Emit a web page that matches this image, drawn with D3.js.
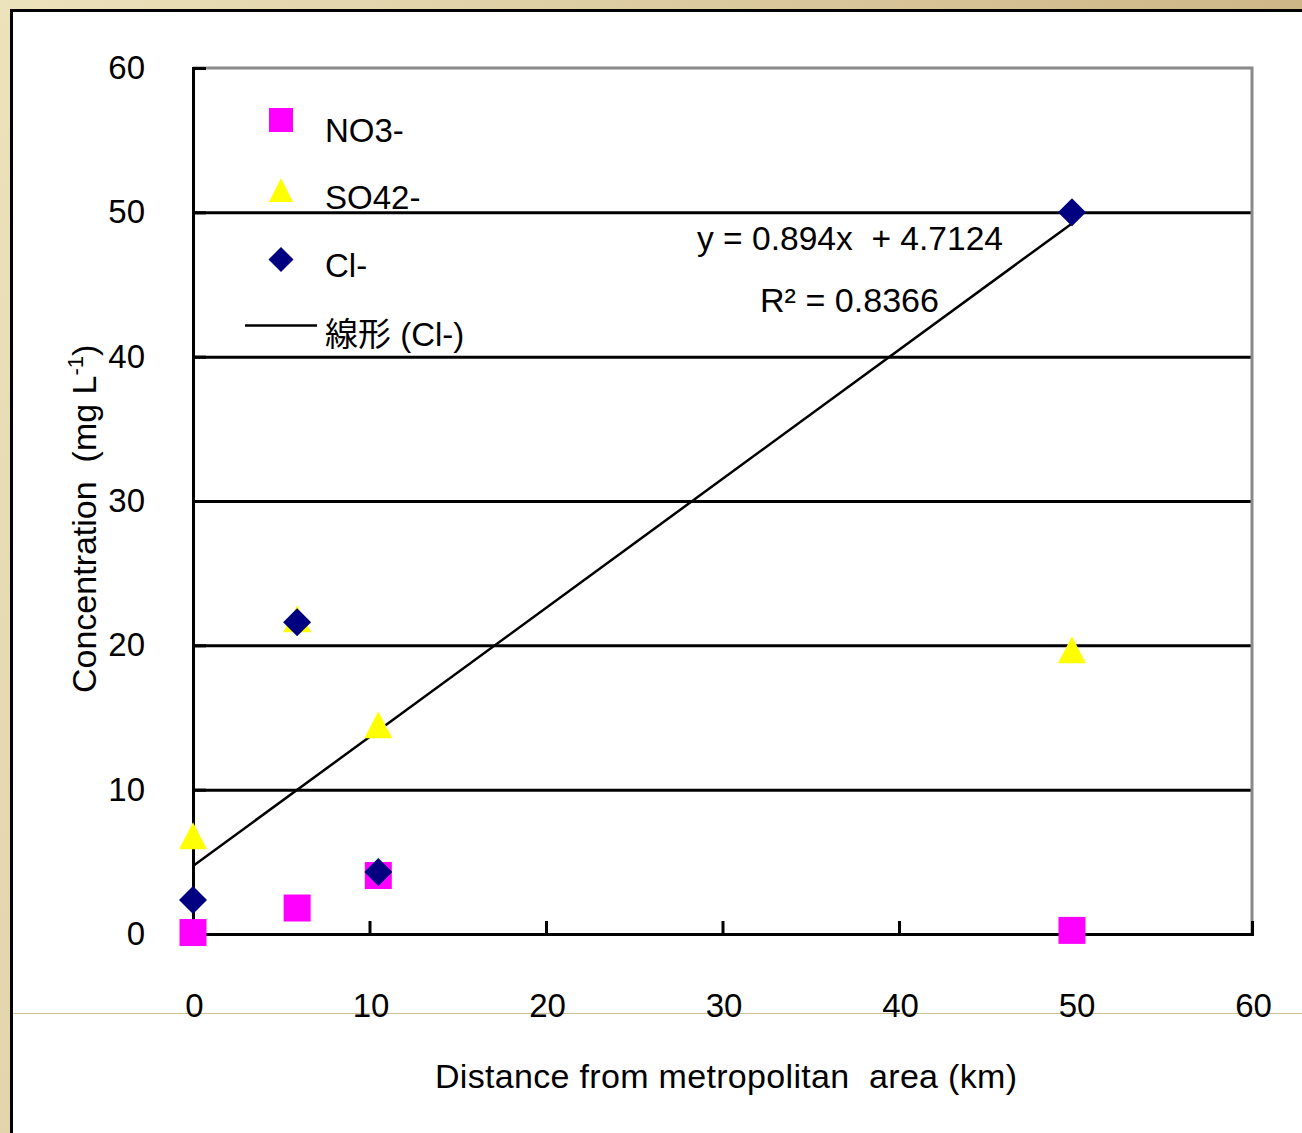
<!DOCTYPE html>
<html>
<head>
<meta charset="utf-8">
<script src="https://cdn.jsdelivr.net/npm/d3@7"></script>
<style>
  html, body { margin: 0; padding: 0; background: #fff; }
  svg { display: block; font-family: "Liberation Sans", Arial, "Noto Sans CJK JP", sans-serif; }
  svg text { white-space: pre; }
</style>
</head>
<body>
<div id="chart"></div>
<script>
const width = 1302;
const height = 1133;

// distances (km) for each site
const distances = [0, 5.9, 10.5, 49.8];
// concentrations (mg/L)
const no3 = [0.1, 1.8, 4.05, 0.25];
const so4 = [6.8, 21.85, 14.5, 19.7];
const cl = [2.35, 21.6, 4.3, 50.0];

// linear trend of Cl- as reported on the chart
const slope = 0.894;
const intercept = 4.7124;
const r2Label = "R² = 0.8366";
const eqLabel = "y = 0.894x  + 4.7124";

const xTicks = [0, 10, 20, 30, 40, 50, 60];
const yTicks = [0, 10, 20, 30, 40, 50, 60];

const legendItems = ["NO3-", "SO42-", "Cl-", "線形 (Cl-)"];

const svg = d3.select("#chart").append("svg").attr("width", width).attr("height", height);

// slide background + white panel
const defs = svg.append("defs");
const grad = defs.append("linearGradient").attr("id", "bg").attr("x1", "0").attr("y1", "0").attr("x2", "1").attr("y2", "0.3");
grad.append("stop").attr("offset", "0").attr("stop-color", "#ece2bc");
grad.append("stop").attr("offset", "1").attr("stop-color", "#cbb282");
svg.append("rect").attr("width", width).attr("height", height).attr("fill", "url(#bg)");
svg.append("rect").attr("x", 11).attr("y", 11).attr("width", width - 11).attr("height", height - 11).attr("fill", "#fff");
svg.append("line").attr("x1", 11.5).attr("x2", 11.5).attr("y1", 10).attr("y2", height).attr("stroke", "#000").attr("stroke-width", 3);
svg.append("line").attr("x1", 10).attr("x2", width).attr("y1", 10.5).attr("y2", 10.5).attr("stroke", "#000").attr("stroke-width", 3);
// stray slide guide line
svg.append("line").attr("x1", 13).attr("x2", width).attr("y1", 1013.5).attr("y2", 1013.5).attr("stroke", "#d2c094").attr("stroke-width", 1);

const x = d3.scaleLinear().domain([0, 60]).range([193, 1252]);
const y = d3.scaleLinear().domain([0, 60]).range([934, 68]);

const plot = svg.append("g");

// gridlines
plot.selectAll("line.grid")
  .data(yTicks.filter((d) => d > 0 && d < 60))
  .enter()
  .append("line")
  .attr("class", "grid")
  .attr("x1", x(0))
  .attr("x2", x(60))
  .attr("y1", (d) => y(d) + 0.5)
  .attr("y2", (d) => y(d) + 0.5)
  .attr("stroke", "#000")
  .attr("stroke-width", 3);

// gray top/right frame
plot.append("path")
  .attr("d", `M${x(0)},${y(60)}H${x(60)}V${y(0)}`)
  .attr("fill", "none")
  .attr("stroke", "#8a8a8a")
  .attr("stroke-width", 3);

// axes, ticks pointing into the plot
const yAxis = svg.append("g")
  .attr("transform", `translate(${x(0)},0)`)
  .call(d3.axisLeft(y).tickValues(yTicks).tickSize(-13).tickPadding(48));
const xAxis = svg.append("g")
  .attr("transform", `translate(0,${y(0)})`)
  .call(d3.axisBottom(x).tickValues(xTicks).tickSize(-13).tickPadding(60));

[xAxis, yAxis].forEach((ax) => {
  ax.select(".domain").attr("stroke", "#000").attr("stroke-width", 3);
  ax.selectAll(".tick line").attr("stroke", "#000").attr("stroke-width", 3);
  ax.selectAll(".tick text").attr("fill", "#000").attr("font-size", 33).attr("font-family", null);
});
xAxis.selectAll(".tick text").attr("dx", 1);

// trend line
const xEnd = distances[distances.length - 1];
plot.append("line")
  .attr("x1", x(0))
  .attr("y1", y(intercept))
  .attr("x2", x(xEnd))
  .attr("y2", y(slope * xEnd + intercept))
  .attr("stroke", "#000")
  .attr("stroke-width", 2.5);

// marker shapes
const squarePath = (s) => `M${-s / 2},${-s / 2}h${s}v${s}h${-s}Z`;
const trianglePath = (w, h) => `M0,${-h / 2}L${w / 2},${h / 2}L${-w / 2},${h / 2}Z`;
const diamondPath = (s) => `M0,${-s / 2}L${s / 2},0L0,${s / 2}L${-s / 2},0Z`;

const marks = svg.append("g");

marks.selectAll("path.no3")
  .data(distances.map((d, i) => [d, no3[i]]))
  .enter()
  .append("path")
  .attr("class", "no3")
  .attr("d", squarePath(27))
  .attr("transform", (d) => `translate(${x(d[0])},${y(d[1])})`)
  .attr("fill", "#ff00ff");

marks.selectAll("path.so4")
  .data(distances.map((d, i) => [d, so4[i]]))
  .enter()
  .append("path")
  .attr("class", "so4")
  .attr("d", trianglePath(28, 27))
  .attr("transform", (d) => `translate(${x(d[0])},${y(d[1])})`)
  .attr("fill", "#ffff00");

marks.selectAll("path.cl")
  .data(distances.map((d, i) => [d, cl[i]]))
  .enter()
  .append("path")
  .attr("class", "cl")
  .attr("d", diamondPath(28))
  .attr("transform", (d) => `translate(${x(d[0])},${y(d[1])})`)
  .attr("fill", "#000080");

// legend
const legend = svg.append("g").attr("font-size", 33).attr("fill", "#000");
const legendRows = [120, 190, 259.5, 325.5];
const legendBase = [142, 209, 277, 346];
legend.append("path").attr("d", squarePath(24)).attr("transform", `translate(281,${legendRows[0]})`).attr("fill", "#ff00ff");
legend.append("path").attr("d", trianglePath(24, 24)).attr("transform", `translate(281,${legendRows[1]})`).attr("fill", "#ffff00");
legend.append("path").attr("d", diamondPath(25)).attr("transform", `translate(281,${legendRows[2]})`).attr("fill", "#000080");
legend.append("line").attr("x1", 245).attr("x2", 317).attr("y1", legendRows[3]).attr("y2", legendRows[3]).attr("stroke", "#000").attr("stroke-width", 2.5);
legend.selectAll("text")
  .data(legendItems)
  .enter()
  .append("text")
  .attr("x", 325)
  .attr("y", (d, i) => legendBase[i])
  .text((d) => d);

// trend equation
svg.append("text").attr("x", 697).attr("y", 250).attr("font-size", 33)
  .attr("textLength", 306).attr("lengthAdjust", "spacingAndGlyphs").text(eqLabel);
svg.append("text").attr("x", 760).attr("y", 312).attr("font-size", 33)
  .attr("textLength", 179).attr("lengthAdjust", "spacingAndGlyphs").text(r2Label);

// axis titles
svg.append("text")
  .attr("x", 435)
  .attr("y", 1088)
  .attr("font-size", 34)
  .attr("textLength", 582)
  .attr("lengthAdjust", "spacing")
  .text("Distance from metropolitan  area (km)");

const yTitle = svg.append("text")
  .attr("transform", "translate(96,693) rotate(-90)")
  .attr("font-size", 34);
yTitle.append("tspan").text("Concentration  (mg L");
yTitle.append("tspan").attr("font-size", 22).attr("dy", -13).text("-1");
yTitle.append("tspan").attr("dy", 13).text(")");
</script>
</body>
</html>
